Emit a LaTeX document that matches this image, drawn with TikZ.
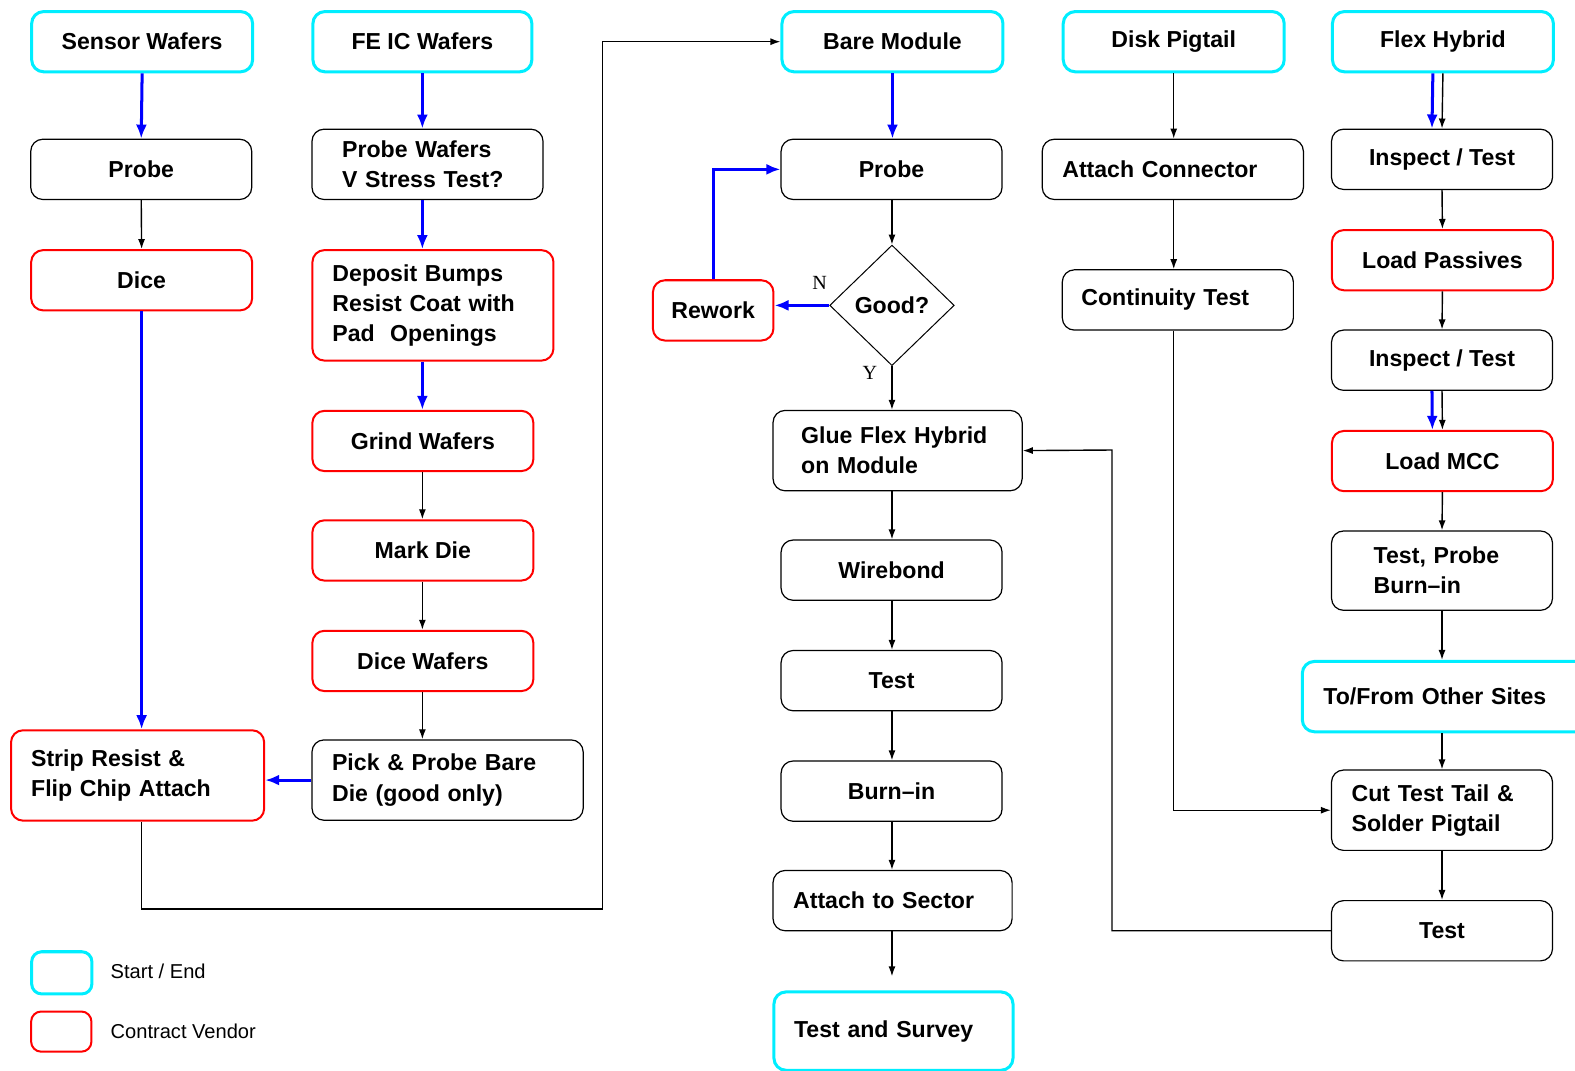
\documentclass[tikz,border=0pt]{standalone}
\usepackage{fontspec}
\setmainfont{Liberation Sans}
\newfontfamily\serifN{Liberation Serif}
\usetikzlibrary{arrows.meta,shapes.geometric}
\definecolor{cy}{RGB}{0,238,255}
\definecolor{bl}{RGB}{0,0,255}
\definecolor{rd}{RGB}{255,0,0}
\begin{document}
\begin{tikzpicture}[x=1pt,y=-1pt,
  box/.style={draw=black, line width=1.2pt, rounded corners=12pt, inner sep=0pt,
    anchor=north west, font=\bfseries\fontsize{23pt}{30pt}\selectfont, align=center},
  term/.style={box, draw=cy, line width=3pt},
  vend/.style={box, draw=rd, line width=2pt},
  blk/.style={draw=black, line width=1.4pt, -{Latex[length=10pt,width=7pt]}},
  blu/.style={draw=bl, line width=3pt, -{Latex[length=14pt,width=11pt]}},
  lbl/.style={font=\serifN\fontsize{20pt}{20pt}\selectfont, inner sep=0pt},
  legtext/.style={anchor=west, inner sep=0pt, font=\fontsize{20pt}{20pt}\selectfont}
]
\useasboundingbox (0,0) rectangle (1568,1066);
\clip (0,0) rectangle (1568,1066);

% column 1
\node[term, minimum width=220pt, minimum height=60pt] (sw) at (30,10) {Sensor Wafers};
\node[box, minimum width=220pt, minimum height=60pt] (p1) at (30,138) {Probe};
\node[vend, minimum width=220pt, minimum height=60pt] (dc) at (30,248) {Dice};
\node[vend, minimum width=252pt, minimum height=90pt, text width=212pt, inner xsep=20pt, align=left] (sr) at (10,726) {Strip Resist \&\\Flip Chip Attach};

% column 2
\node[term, minimum width=218pt, minimum height=60pt] (fe) at (310,10) {FE IC Wafers};
\node[box, minimum width=230pt, minimum height=70pt, text width=170pt, inner xsep=30pt, align=left] (pw) at (310,128) {Probe Wafers\\V Stress Test?};
\node[vend, minimum width=240pt, minimum height=110pt, text width=200pt, inner xsep=20pt, align=left] (db) at (310,248) {Deposit Bumps\\Resist Coat with\\Pad~~Openings};
\node[vend, minimum width=220pt, minimum height=60pt] (gw) at (310,408) {Grind Wafers};
\node[vend, minimum width=220pt, minimum height=60pt] (md) at (310,517) {Mark Die};
\node[vend, minimum width=220pt, minimum height=60pt] (dw) at (310,627) {Dice Wafers};
\node[box, minimum width=270pt, minimum height=80pt, text width=230pt, inner xsep=20pt, align=left] (pk) at (310,736) {Pick \& Probe Bare\\Die (good only)};

% column 3
\node[term, minimum width=220pt, minimum height=60pt] (bm) at (777,10) {Bare Module};
\node[box, minimum width=220pt, minimum height=60pt] (p3) at (777,138) {Probe};
\node[diamond, draw=black, line width=1pt, minimum width=124pt, minimum height=120pt, inner sep=0pt,
  font=\bfseries\fontsize{23pt}{30pt}\selectfont] (gd) at (888,304) {Good?};
\node[vend, minimum width=120pt, minimum height=60pt] (rw) at (649,278) {Rework};
\node[box, minimum width=248pt, minimum height=80pt, text width=192pt, inner xsep=28pt, align=left] (gl) at (769,408) {Glue Flex Hybrid\\on Module};
\node[box, minimum width=220pt, minimum height=60pt] (wb) at (777,537) {Wirebond};
\node[box, minimum width=220pt, minimum height=60pt] (ts) at (777,647) {Test};
\node[box, minimum width=220pt, minimum height=60pt] (bi) at (777,757) {Burn--in};
\node[box, minimum width=238pt, minimum height=60pt, text width=198pt, inner xsep=20pt, align=left] (as) at (769,866) {Attach to Sector};
\node[term, minimum width=238pt, minimum height=78pt, text width=198pt, inner xsep=20pt, align=left] (su) at (769,986) {Test and Survey};

% column 4
\node[term, minimum width=220pt, minimum height=60pt] (dp) at (1057,10) {Disk Pigtail};
\node[box, minimum width=260pt, minimum height=60pt, text width=220pt, inner xsep=20pt, align=left] (ac) at (1037,138) {Attach Connector};
\node[box, minimum width=230pt, minimum height=60pt, text width=192pt, inner xsep=19pt, align=left] (ct) at (1057,268) {Continuity Test};

% column 5
\node[term, minimum width=220pt, minimum height=60pt] (fh) at (1325,10) {Flex Hybrid};
\node[box, minimum width=220pt, minimum height=60pt] (i1) at (1325,128) {Inspect / Test};
\node[vend, minimum width=220pt, minimum height=60pt] (lp) at (1325,228) {Load Passives};
\node[box, minimum width=220pt, minimum height=60pt] (i2) at (1325,328) {Inspect / Test};
\node[vend, minimum width=220pt, minimum height=60pt] (lm) at (1325,428) {Load MCC};
\node[box, minimum width=220pt, minimum height=79pt, text width=136pt, inner xsep=42pt, align=left] (tp) at (1325,528) {Test, Probe\\Burn--in};
\node[term, minimum width=290pt, minimum height=70pt, text width=248pt, inner xsep=21pt, align=left] (of) at (1295,657) {To/From Other Sites};
\node[box, minimum width=220pt, minimum height=80pt, text width=180pt, inner xsep=20pt, align=left] (cu) at (1325,766) {Cut Test Tail \&\\Solder Pigtail};
\node[box, minimum width=220pt, minimum height=60pt] (t5) at (1325,896) {Test};

% labels
\node[lbl] (nl) at (816,282) {N};
\node[lbl] (yl) at (866,371) {Y};

% legend
\node[term, rounded corners=10pt, minimum width=60pt, minimum height=42pt] (lg1) at (30,946) {};
\node[vend, rounded corners=10pt, minimum width=60pt, minimum height=40pt] (lg2) at (30,1006) {};
\node[legtext] (lt1) at (110,967) {Start / End};
\node[legtext] (lt2) at (110,1027) {Contract Vendor};

% connectors column 1
\draw[blu] (sw.south) -- (p1.north);
\draw[blk] (p1.south) -- (dc.north);
\draw[blu] (dc.south) -- (dc.south |- sr.north);

% connectors column 2
\draw[blu] (fe.south) -- (fe.south |- pw.north);
\draw[blu] (pw.south -| fe.south) -- (fe.south |- db.north);
\draw[blu] (db.south -| fe.south) -- (fe.south |- gw.north);
\draw[blk] (gw.south -| fe.south) -- (fe.south |- md.north);
\draw[blk] (md.south -| fe.south) -- (fe.south |- dw.north);
\draw[blk] (dw.south -| fe.south) -- (fe.south |- pk.north);
\draw[blu] (pk.west) -- (pk.west -| sr.east);

% strip -> bare module
\coordinate (k1) at (600,905);
\draw[blk] (sr.south -| dc.south) |- (k1) |- (bm.west);

% column 3
\draw[blu] (bm.south) -- (bm.south |- p3.north);
\draw[blk] (p3.south -| gd.north) -- (gd.north);
\draw[blu] (gd.west) -- (gd.west -| rw.east);
\draw[blu] (rw.north) |- (p3.west);
\draw[blk] (gd.south) -- (gd.south |- gl.north);
\draw[blk] (gl.south -| gd.south) -- (gd.south |- wb.north);
\draw[blk] (wb.south -| gd.south) -- (gd.south |- ts.north);
\draw[blk] (ts.south -| gd.south) -- (gd.south |- bi.north);
\draw[blk] (bi.south -| gd.south) -- (gd.south |- as.north);
\coordinate (k2) at (888,972);
\draw[blk] (as.south -| gd.south) -- (k2);

% column 4
\draw[blk] (dp.south) -- (dp.south |- ac.north);
\draw[blk] (ac.south -| dp.south) -- (dp.south |- ct.north);
\draw[blk] (ct.south -| dp.south) |- (cu.west);

% column 5
\draw[blu] ([xshift=-10pt]fh.south) -- ([xshift=-10pt]i1.north);
\draw[blk] (fh.south) -- (i1.north);
\draw[blk] (i1.south) -- (lp.north);
\draw[blk] (lp.south) -- (i2.north);
\draw[blu] ([xshift=-10pt]i2.south) -- ([xshift=-10pt]lm.north);
\draw[blk] (i2.south) -- (lm.north);
\draw[blk] (lm.south) -- (tp.north);
\draw[blk] (tp.south) -- (tp.south |- of.north);
\draw[blk] (cu.north |- of.south) -- (cu.north);
\draw[blk] (cu.south) -- (t5.north);

% test -> glue
\coordinate (k3) at (1107,448);
\draw[blk] (t5.west) -| (k3) -- (gl.east);
\end{tikzpicture}
\end{document}
